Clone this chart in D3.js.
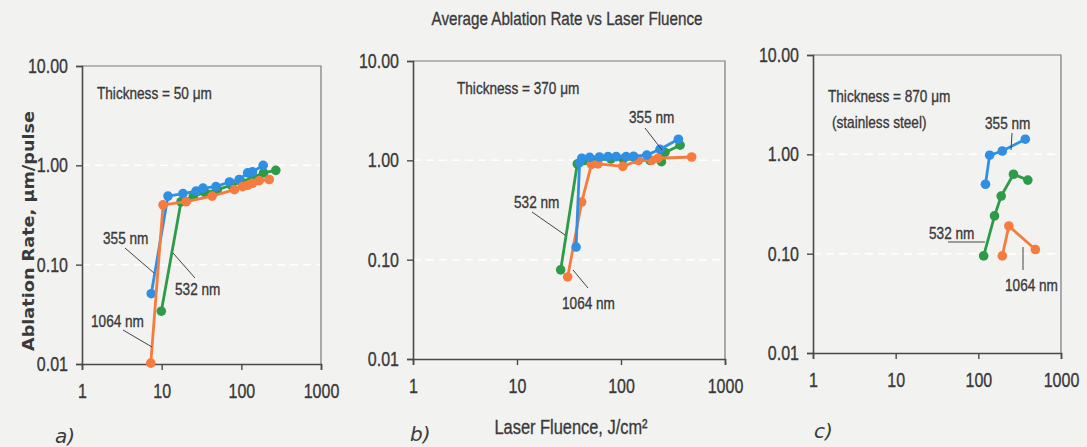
<!DOCTYPE html>
<html>
<head>
<meta charset="utf-8">
<script src="https://cdn.jsdelivr.net/npm/d3@7"></script>
<style>
  html, body { margin: 0; padding: 0; background: #f2f2f1; }
  svg { display: block; }
  text { font-family: "Liberation Sans", Arial, sans-serif; fill: #3a3a3a; }
  text.cond { stroke: #3a3a3a; stroke-width: 0.35px; }
</style>
</head>
<body>
<svg id="chart" width="1087" height="447"></svg>
<script>
// ---- data (fluence J/cm2, ablation rate um/pulse) ----
const xTicks = [1, 10, 100, 1000];
const yTicks = [0.01, 0.1, 1, 10];

const colors = { "355 nm": "#2f8fe3", "532 nm": "#2e9b48", "1064 nm": "#f67b3e" };

// panel a) thickness 50 um
const a355 = [[7.4, 0.051], [12, 0.49], [18.5, 0.52], [27, 0.55], [33, 0.59], [48, 0.61], [71, 0.68], [94, 0.72], [120, 0.84], [138, 0.86], [188, 1.0]];
const a532 = [[9.9, 0.034], [17.5, 0.43], [25, 0.49], [35, 0.53], [50, 0.57], [75, 0.63], [100, 0.68], [140, 0.76], [190, 0.84], [271, 0.89]];
const a1064 = [[7.3, 0.0102], [10.4, 0.40], [20.3, 0.43], [43, 0.49], [82, 0.57], [104, 0.61], [120, 0.63], [138, 0.66], [168, 0.70], [224, 0.72]];

// panel b) thickness 370 um
const b355 = [[37, 0.134], [40, 0.95], [42, 1.05], [50, 1.07], [62, 1.08], [75, 1.09], [90, 1.09], [112, 1.09], [132, 1.1], [177, 1.13], [237, 1.29], [356, 1.63]];
const b532 = [[26.3, 0.079], [38, 0.92], [45, 1.0], [60, 1.02], [80, 1.03], [105, 1.03], [140, 1.02], [190, 1.0], [245, 0.97], [265, 1.2], [370, 1.42]];
const b1064 = [[30.7, 0.067], [41.9, 0.38], [52, 0.91], [60, 0.92], [104, 0.87], [147, 1.0], [197, 1.0], [227, 1.05], [478, 1.08]];

// panel c) thickness 870 um, stainless steel
const c355 = [[122, 0.50], [137, 0.98], [195, 1.08], [370, 1.42]];
const c532 = [[116, 0.095], [157, 0.24], [189, 0.38], [266, 0.63], [397, 0.55]];
const c1064 = [[195, 0.095], [234, 0.19], [490, 0.11]];

const titleText = "Average Ablation Rate vs Laser Fluence";
const yTitle = "Ablation Rate, \u03bcm/pulse";
const xTitle = "Laser Fluence, J/cm\u00b2";

// ---- layout ----
const condense = 0.8; // mimic the condensed typeface of the original
const panels = [
    {
        id: "a)", left: 82, right: 321, top: 66, bottom: 364,
        series: { "532 nm": a532, "355 nm": a355, "1064 nm": a1064 },
        notes: [
            { text: "Thickness = 50 \u03bcm", x: 15, y: 33 }
        ],
        labels: [
            { text: "355 nm", x: 21, y: 178, line: [43, 182, 72, 207] },
            { text: "532 nm", x: 93, y: 229, line: [91, 187, 113, 212] },
            { text: "1064 nm", x: 9, y: 261, line: [41, 264, 70, 281] }
        ],
        tag: { x: 55, y: 443 }
    },
    {
        id: "b)", left: 413, right: 725, top: 61, bottom: 359,
        series: { "532 nm": b532, "1064 nm": b1064, "355 nm": b355 },
        notes: [
            { text: "Thickness = 370 \u03bcm", x: 44, y: 33 }
        ],
        labels: [
            { text: "355 nm", x: 216, y: 62, line: [232, 67, 249, 89] },
            { text: "532 nm", x: 101, y: 147, line: [119, 151, 152, 174] },
            { text: "1064 nm", x: 149, y: 248, line: [160, 209, 175, 227] }
        ],
        tag: { x: 410, y: 441 }
    },
    {
        id: "c)", left: 813, right: 1061, top: 55, bottom: 353,
        series: { "355 nm": c355, "532 nm": c532, "1064 nm": c1064 },
        notes: [
            { text: "Thickness = 870 \u03bcm", x: 15, y: 47 },
            { text: "(stainless steel)", x: 19, y: 73 }
        ],
        labels: [
            { text: "355 nm", x: 172, y: 74, line: [199, 78, 198, 95] },
            { text: "532 nm", x: 116, y: 184, line: [135, 187, 172, 187] },
            { text: "1064 nm", x: 192, y: 236, line: [210, 192, 210, 215] }
        ],
        tag: { x: 814, y: 438 }
    }
];

const svg = d3.select("#chart");

svg.append("text")
    .attr("class", "cond")
    .attr("x", 567)
    .attr("y", 25)
    .attr("text-anchor", "middle")
    .attr("font-size", 19)
    .text(titleText);

svg.append("text")
    .attr("transform", "translate(34,231) rotate(-90)")
    .attr("text-anchor", "middle")
    .attr("textLength", 240)
    .attr("lengthAdjust", "spacingAndGlyphs")
    .style("font-family", "'DejaVu Sans', Verdana, sans-serif")
    .style("font-weight", "bold")
    .attr("font-size", 16)
    .attr("fill", "#666")
    .text(yTitle);

svg.append("text")
    .attr("class", "cond")
    .attr("x", 571)
    .attr("y", 434)
    .attr("text-anchor", "middle")
    .attr("font-size", 20.5)
    .text(xTitle);

panels.forEach(p => {
    const xScale = d3.scaleLog().domain([1, 1000]).range([p.left, p.right]);
    const yScale = d3.scaleLog().domain([0.01, 10]).range([p.bottom, p.top]);
    const g = svg.append("g");

    // white dashed guide lines
    g.selectAll("line.grid")
        .data([0.1, 1])
        .join("line")
        .attr("class", "grid")
        .attr("x1", p.left).attr("x2", p.right)
        .attr("y1", d => yScale(d)).attr("y2", d => yScale(d))
        .attr("stroke", "#ffffff")
        .attr("stroke-width", 1.5)
        .attr("stroke-dasharray", "8,5");

    // frame (top / right)
    g.append("path")
        .attr("d", `M${p.left},${p.top}H${p.right}V${p.bottom}`)
        .attr("fill", "none")
        .attr("stroke", "#7a7a7a")
        .attr("stroke-width", 1.2);

    const xAxis = g.append("g")
        .attr("transform", `translate(0,${p.bottom})`)
        .call(d3.axisBottom(xScale).tickValues(xTicks).tickFormat(d3.format("d")).tickSize(6).tickPadding(14));
    const yAxis = g.append("g")
        .attr("transform", `translate(${p.left},0)`)
        .call(d3.axisLeft(yScale).tickValues(yTicks).tickFormat(d3.format(".2f")).tickSize(6).tickPadding(8));

    [xAxis, yAxis].forEach(ax => {
        ax.select(".domain").attr("stroke", "#4a4a4a").attr("stroke-width", 1.6);
        ax.selectAll(".tick line").attr("stroke", "#4a4a4a").attr("stroke-width", 1.4);
        ax.selectAll(".tick text")
            .attr("class", "cond")
            .attr("font-size", 20)
            .attr("fill", "#3a3a3a")
            .style("font-family", "'Liberation Sans', Arial, sans-serif");
    });

    const line = d3.line()
        .x(d => xScale(d[0]))
        .y(d => yScale(d[1]));

    Object.entries(p.series).forEach(([name, values]) => {
        g.append("path")
            .datum(values)
            .attr("d", line)
            .attr("fill", "none")
            .attr("stroke", colors[name])
            .attr("stroke-width", 2.8);

        g.selectAll(null)
            .data(values)
            .join("circle")
            .attr("cx", d => xScale(d[0]))
            .attr("cy", d => yScale(d[1]))
            .attr("r", 4.8)
            .attr("fill", colors[name]);
    });

    // annotations
    g.selectAll("text.note")
        .data(p.notes)
        .join("text")
        .attr("class", "note cond")
        .attr("x", d => p.left + d.x)
        .attr("y", d => p.top + d.y)
        .attr("font-size", 17)
        .text(d => d.text);

    g.selectAll("line.leader")
        .data(p.labels)
        .join("line")
        .attr("class", "leader")
        .attr("x1", d => p.left + d.line[0])
        .attr("y1", d => p.top + d.line[1])
        .attr("x2", d => p.left + d.line[2])
        .attr("y2", d => p.top + d.line[3])
        .attr("stroke", "#444")
        .attr("stroke-width", 1);

    g.selectAll("text.wl")
        .data(p.labels)
        .join("text")
        .attr("class", "wl cond")
        .attr("x", d => p.left + d.x)
        .attr("y", d => p.top + d.y)
        .attr("font-size", 17)
        .text(d => d.text);

    g.append("text")
        .attr("x", p.tag.x)
        .attr("y", p.tag.y)
        .attr("font-size", 20)
        .style("font-style", "italic")
        .style("font-family", "'DejaVu Sans', sans-serif")
        .style("font-weight", 200)
        .attr("fill", "#888")
        .text(p.id);
});

// squeeze texts horizontally to look like a condensed face
svg.selectAll("text.cond").each(function () {
    const w = this.getComputedTextLength();
    d3.select(this)
        .attr("textLength", w * condense)
        .attr("lengthAdjust", "spacingAndGlyphs");
});
</script>
</body>
</html>
